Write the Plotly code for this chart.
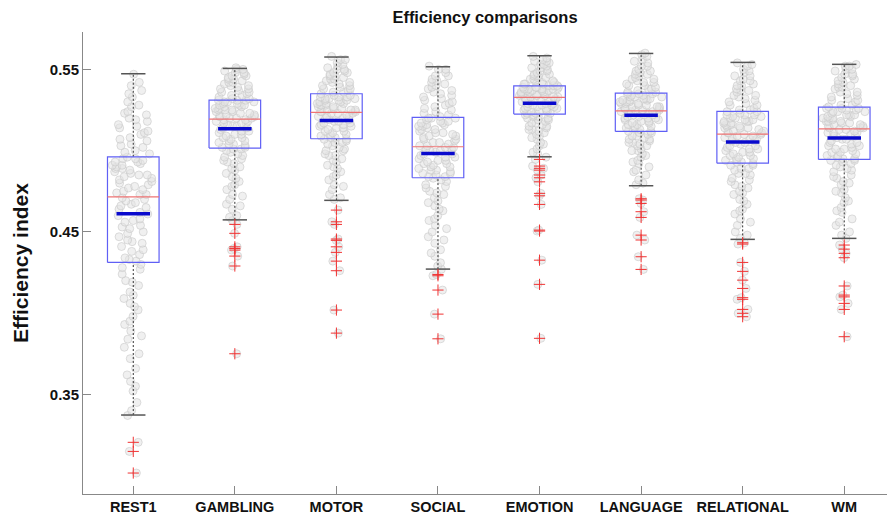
import plotly.graph_objects as go

# ---- data -----------------------------------------------------------------
categories = ["REST1", "GAMBLING", "MOTOR", "SOCIAL", "EMOTION",
              "LANGUAGE", "RELATIONAL", "WM"]

lower_whisker = [0.3373, 0.4574, 0.4694, 0.4271, 0.4962, 0.4784, 0.4454, 0.4460]
q1_values     = [0.4312, 0.5016, 0.5073, 0.4833, 0.5225, 0.5118, 0.4923, 0.4946]
median_values = [0.4716, 0.5194, 0.5235, 0.5024, 0.5328, 0.5245, 0.5102, 0.5134]
q3_values     = [0.4962, 0.5311, 0.5350, 0.5205, 0.5399, 0.5354, 0.5242, 0.5268]
upper_whisker = [0.5473, 0.5506, 0.5576, 0.5516, 0.5584, 0.5598, 0.5543, 0.5531]
mean_values   = [0.4611, 0.5134, 0.5186, 0.4983, 0.5291, 0.5217, 0.5053, 0.5077]

outliers_rest1 = [0.3205, 0.3149, 0.3016]
outliers_gambling = [0.4546, 0.4491, 0.4408, 0.4398, 0.4388, 0.4351, 0.4290, 0.3750]
outliers_motor = [0.4634, 0.4562, 0.4546, 0.4456, 0.4448, 0.4408, 0.4374, 0.4320,
                  0.4261, 0.4019, 0.3877]
outliers_social = [0.4238, 0.4230, 0.4142, 0.3994, 0.3842]
outliers_emotion = [0.4946, 0.4905, 0.4891, 0.4880, 0.4850, 0.4833, 0.4808, 0.4737,
                    0.4722, 0.4669, 0.4511, 0.4505, 0.4326, 0.4177, 0.3845]
outliers_language = [0.4704, 0.4696, 0.4675, 0.4624, 0.4589, 0.4480, 0.4450, 0.4347,
                     0.4269]
outliers_relational = [0.4433, 0.4425, 0.4312, 0.4257, 0.4203, 0.4152, 0.4095, 0.4085,
                       0.4023, 0.3999, 0.3978]
outliers_wm = [0.4419, 0.4394, 0.4368, 0.4341, 0.4167, 0.4111, 0.4100, 0.4060,
               0.4023, 0.3855]

# subject-level efficiency values inside the whiskers
rest1_values = [
    0.337, 0.345, 0.352, 0.358, 0.366, 0.372, 0.379, 0.384, 0.389, 0.393,
    0.398, 0.402, 0.406, 0.409, 0.413, 0.417, 0.420, 0.424, 0.427, 0.430,
    0.432, 0.434, 0.436, 0.439, 0.441, 0.443, 0.445, 0.447, 0.450, 0.452,
    0.454, 0.456, 0.458, 0.460, 0.462, 0.464, 0.466, 0.468, 0.470, 0.471,
    0.473, 0.474, 0.476, 0.477, 0.478, 0.480, 0.481, 0.482, 0.484, 0.485,
    0.486, 0.488, 0.489, 0.490, 0.491, 0.492, 0.493, 0.494, 0.495, 0.496,
    0.498, 0.500, 0.502, 0.504, 0.506, 0.508, 0.510, 0.512, 0.514, 0.516,
    0.518, 0.520, 0.522, 0.524, 0.527, 0.530, 0.533, 0.537, 0.542, 0.547,
    0.340, 0.355, 0.362, 0.375, 0.386, 0.395, 0.404, 0.411, 0.419, 0.428,
    0.433, 0.438, 0.444, 0.449, 0.453, 0.457, 0.461, 0.465, 0.467, 0.469,
    0.473, 0.475, 0.479, 0.483, 0.485, 0.487, 0.489, 0.491, 0.493, 0.495,
    0.499, 0.503, 0.507, 0.511, 0.515, 0.519, 0.523, 0.528, 0.535, 0.540]
gambling_values = [
    0.457, 0.460, 0.464, 0.467, 0.470, 0.473, 0.476, 0.479, 0.481, 0.483,
    0.486, 0.488, 0.490, 0.492, 0.494, 0.495, 0.497, 0.498, 0.500, 0.501,
    0.502, 0.503, 0.504, 0.505, 0.506, 0.507, 0.508, 0.509, 0.510, 0.511,
    0.512, 0.513, 0.514, 0.515, 0.516, 0.517, 0.517, 0.518, 0.519, 0.519,
    0.520, 0.520, 0.521, 0.521, 0.522, 0.523, 0.523, 0.524, 0.525, 0.525,
    0.526, 0.527, 0.527, 0.528, 0.528, 0.529, 0.530, 0.530, 0.531, 0.531,
    0.532, 0.533, 0.534, 0.535, 0.536, 0.537, 0.538, 0.539, 0.540, 0.541,
    0.542, 0.543, 0.544, 0.545, 0.546, 0.547, 0.548, 0.549, 0.550, 0.551,
    0.459, 0.466, 0.472, 0.478, 0.484, 0.489, 0.493, 0.496, 0.499, 0.501,
    0.502, 0.504, 0.506, 0.508, 0.510, 0.512, 0.514, 0.515, 0.517, 0.518,
    0.520, 0.521, 0.522, 0.524, 0.525, 0.526, 0.528, 0.529, 0.530, 0.531,
    0.532, 0.534, 0.536, 0.538, 0.540, 0.542, 0.544, 0.546, 0.548, 0.550]
motor_values = [
    0.470, 0.473, 0.476, 0.479, 0.482, 0.484, 0.487, 0.489, 0.491, 0.493,
    0.495, 0.497, 0.498, 0.500, 0.501, 0.502, 0.504, 0.505, 0.506, 0.507,
    0.508, 0.509, 0.510, 0.511, 0.512, 0.513, 0.514, 0.515, 0.516, 0.516,
    0.517, 0.518, 0.519, 0.519, 0.520, 0.521, 0.521, 0.522, 0.523, 0.523,
    0.524, 0.524, 0.525, 0.525, 0.526, 0.527, 0.527, 0.528, 0.528, 0.529,
    0.529, 0.530, 0.531, 0.531, 0.532, 0.532, 0.533, 0.533, 0.534, 0.535,
    0.536, 0.537, 0.538, 0.539, 0.540, 0.541, 0.542, 0.543, 0.544, 0.545,
    0.546, 0.547, 0.548, 0.549, 0.550, 0.551, 0.552, 0.554, 0.556, 0.558,
    0.471, 0.478, 0.485, 0.490, 0.494, 0.497, 0.500, 0.503, 0.505, 0.507,
    0.508, 0.510, 0.512, 0.514, 0.515, 0.517, 0.518, 0.520, 0.521, 0.523,
    0.524, 0.525, 0.526, 0.528, 0.529, 0.530, 0.531, 0.532, 0.533, 0.534,
    0.536, 0.538, 0.540, 0.542, 0.544, 0.546, 0.548, 0.550, 0.553, 0.556]
social_values = [
    0.427, 0.431, 0.435, 0.439, 0.443, 0.447, 0.450, 0.454, 0.457, 0.460,
    0.463, 0.466, 0.468, 0.471, 0.473, 0.475, 0.477, 0.479, 0.481, 0.483,
    0.484, 0.485, 0.486, 0.487, 0.488, 0.489, 0.490, 0.491, 0.492, 0.493,
    0.494, 0.495, 0.496, 0.497, 0.498, 0.499, 0.500, 0.501, 0.501, 0.502,
    0.503, 0.504, 0.505, 0.506, 0.507, 0.508, 0.509, 0.510, 0.511, 0.512,
    0.513, 0.514, 0.515, 0.516, 0.517, 0.517, 0.518, 0.519, 0.520, 0.520,
    0.522, 0.523, 0.525, 0.526, 0.528, 0.529, 0.531, 0.532, 0.534, 0.535,
    0.537, 0.538, 0.540, 0.541, 0.543, 0.544, 0.546, 0.548, 0.550, 0.552,
    0.429, 0.437, 0.445, 0.452, 0.458, 0.464, 0.469, 0.474, 0.478, 0.482,
    0.484, 0.486, 0.488, 0.490, 0.492, 0.494, 0.496, 0.498, 0.500, 0.502,
    0.503, 0.505, 0.507, 0.509, 0.511, 0.513, 0.515, 0.516, 0.518, 0.520,
    0.521, 0.524, 0.527, 0.530, 0.533, 0.536, 0.539, 0.542, 0.546, 0.550]
emotion_values = [
    0.496, 0.499, 0.501, 0.503, 0.505, 0.507, 0.509, 0.510, 0.512, 0.513,
    0.514, 0.515, 0.516, 0.517, 0.518, 0.519, 0.520, 0.521, 0.521, 0.522,
    0.523, 0.523, 0.524, 0.524, 0.525, 0.526, 0.526, 0.527, 0.527, 0.528,
    0.528, 0.529, 0.529, 0.530, 0.530, 0.531, 0.531, 0.532, 0.532, 0.533,
    0.533, 0.534, 0.534, 0.534, 0.535, 0.535, 0.536, 0.536, 0.536, 0.537,
    0.537, 0.537, 0.538, 0.538, 0.538, 0.539, 0.539, 0.539, 0.540, 0.540,
    0.541, 0.541, 0.542, 0.543, 0.543, 0.544, 0.545, 0.546, 0.546, 0.547,
    0.548, 0.549, 0.550, 0.551, 0.552, 0.553, 0.554, 0.555, 0.556, 0.558,
    0.498, 0.504, 0.508, 0.511, 0.513, 0.515, 0.517, 0.519, 0.520, 0.522,
    0.523, 0.524, 0.525, 0.526, 0.527, 0.528, 0.529, 0.530, 0.531, 0.532,
    0.533, 0.534, 0.535, 0.535, 0.536, 0.537, 0.538, 0.538, 0.539, 0.540,
    0.541, 0.542, 0.544, 0.545, 0.547, 0.549, 0.551, 0.553, 0.555, 0.557]
language_values = [
    0.479, 0.482, 0.485, 0.488, 0.490, 0.492, 0.494, 0.496, 0.498, 0.500,
    0.501, 0.503, 0.504, 0.505, 0.506, 0.507, 0.508, 0.509, 0.510, 0.511,
    0.512, 0.513, 0.514, 0.515, 0.515, 0.516, 0.517, 0.518, 0.518, 0.519,
    0.520, 0.520, 0.521, 0.522, 0.522, 0.523, 0.523, 0.524, 0.524, 0.525,
    0.525, 0.526, 0.526, 0.527, 0.527, 0.528, 0.529, 0.529, 0.530, 0.530,
    0.531, 0.531, 0.532, 0.532, 0.533, 0.533, 0.534, 0.534, 0.535, 0.535,
    0.536, 0.537, 0.538, 0.539, 0.540, 0.541, 0.542, 0.543, 0.544, 0.545,
    0.546, 0.547, 0.548, 0.549, 0.550, 0.552, 0.554, 0.556, 0.558, 0.560,
    0.480, 0.487, 0.493, 0.497, 0.500, 0.503, 0.505, 0.507, 0.509, 0.511,
    0.512, 0.514, 0.516, 0.517, 0.519, 0.520, 0.521, 0.522, 0.523, 0.524,
    0.525, 0.526, 0.527, 0.528, 0.529, 0.530, 0.531, 0.532, 0.533, 0.535,
    0.536, 0.538, 0.540, 0.542, 0.544, 0.547, 0.549, 0.552, 0.555, 0.559]
relational_values = [
    0.446, 0.450, 0.454, 0.458, 0.461, 0.464, 0.467, 0.470, 0.473, 0.475,
    0.477, 0.479, 0.481, 0.483, 0.485, 0.486, 0.488, 0.489, 0.491, 0.492,
    0.493, 0.494, 0.495, 0.496, 0.497, 0.498, 0.499, 0.500, 0.501, 0.502,
    0.503, 0.504, 0.505, 0.506, 0.506, 0.507, 0.508, 0.509, 0.509, 0.510,
    0.511, 0.511, 0.512, 0.513, 0.514, 0.514, 0.515, 0.516, 0.516, 0.517,
    0.518, 0.518, 0.519, 0.520, 0.520, 0.521, 0.522, 0.522, 0.523, 0.524,
    0.525, 0.526, 0.528, 0.529, 0.530, 0.532, 0.533, 0.534, 0.536, 0.537,
    0.538, 0.540, 0.541, 0.543, 0.544, 0.546, 0.548, 0.550, 0.552, 0.554,
    0.448, 0.456, 0.463, 0.469, 0.474, 0.478, 0.482, 0.486, 0.489, 0.491,
    0.493, 0.495, 0.497, 0.499, 0.501, 0.503, 0.505, 0.507, 0.508, 0.510,
    0.511, 0.512, 0.514, 0.515, 0.517, 0.518, 0.519, 0.521, 0.522, 0.524,
    0.525, 0.528, 0.531, 0.534, 0.537, 0.540, 0.543, 0.546, 0.549, 0.553]
wm_values = [
    0.446, 0.450, 0.454, 0.458, 0.462, 0.465, 0.468, 0.471, 0.474, 0.476,
    0.479, 0.481, 0.483, 0.485, 0.487, 0.489, 0.490, 0.492, 0.493, 0.494,
    0.495, 0.496, 0.497, 0.498, 0.499, 0.500, 0.501, 0.502, 0.503, 0.504,
    0.505, 0.506, 0.507, 0.508, 0.509, 0.510, 0.511, 0.511, 0.512, 0.513,
    0.514, 0.514, 0.515, 0.516, 0.516, 0.517, 0.518, 0.518, 0.519, 0.520,
    0.520, 0.521, 0.522, 0.522, 0.523, 0.524, 0.524, 0.525, 0.526, 0.526,
    0.527, 0.528, 0.530, 0.531, 0.532, 0.534, 0.535, 0.536, 0.538, 0.539,
    0.540, 0.542, 0.543, 0.545, 0.546, 0.547, 0.549, 0.550, 0.552, 0.553,
    0.448, 0.456, 0.463, 0.469, 0.475, 0.480, 0.484, 0.488, 0.491, 0.494,
    0.495, 0.497, 0.499, 0.501, 0.503, 0.505, 0.507, 0.509, 0.511, 0.513,
    0.514, 0.515, 0.517, 0.518, 0.520, 0.521, 0.522, 0.524, 0.525, 0.526,
    0.528, 0.531, 0.533, 0.536, 0.539, 0.541, 0.544, 0.547, 0.550, 0.552]

inner_values = [rest1_values, gambling_values, motor_values, social_values,
                emotion_values, language_values, relational_values, wm_values]
outlier_values = [outliers_rest1, outliers_gambling, outliers_motor, outliers_social,
                  outliers_emotion, outliers_language, outliers_relational, outliers_wm]

# ---- styling --------------------------------------------------------------
FONT = "Liberation Sans, Arial, Helvetica, sans-serif"
BOX_HALF = 0.254
MEAN_HALF = 0.165
CAP_HALF = 0.12
CLOUD_WIDTH = 0.42

positions = list(range(1, len(categories) + 1))

fig = go.Figure()

# jittered subject points (all values, outliers included)
for pos, vals, outs in zip(positions, inner_values, outlier_values):
    fig.add_trace(go.Box(
        x0=pos, y=vals + outs, width=CLOUD_WIDTH,
        boxpoints="all", jitter=1.0, pointpos=0,
        fillcolor="rgba(0,0,0,0)", line=dict(width=0, color="rgba(0,0,0,0)"),
        marker=dict(size=8, color="rgba(228,228,228,0.55)",
                    line=dict(width=1, color="rgba(200,200,200,0.6)")),
        showlegend=False, hoverinfo="skip",
    ))


def segments(pairs):
    xs, ys = [], []
    for (xa, xb, ya, yb) in pairs:
        xs += [xa, xb, None]
        ys += [ya, yb, None]
    return xs, ys


# whiskers (dashed), from box edges out to the caps
wx, wy = segments(
    [(p, p, q3, up) for p, q3, up in zip(positions, q3_values, upper_whisker)]
    + [(p, p, lo, q1) for p, lo, q1 in zip(positions, lower_whisker, q1_values)]
)
fig.add_trace(go.Scatter(x=wx, y=wy, mode="lines", hoverinfo="skip", showlegend=False,
                         line=dict(color="#333333", width=1, dash="2px,2px")))

# whisker caps
cx, cy = segments(
    [(p - CAP_HALF, p + CAP_HALF, v, v) for p, v in zip(positions, upper_whisker)]
    + [(p - CAP_HALF, p + CAP_HALF, v, v) for p, v in zip(positions, lower_whisker)]
)
fig.add_trace(go.Scatter(x=cx, y=cy, mode="lines", hoverinfo="skip", showlegend=False,
                         line=dict(color="#555555", width=1.5)))

# boxes
bx, by = [], []
for p, lo, hi in zip(positions, q1_values, q3_values):
    bx += [p - BOX_HALF, p + BOX_HALF, p + BOX_HALF, p - BOX_HALF, p - BOX_HALF, None]
    by += [lo, lo, hi, hi, lo, None]
fig.add_trace(go.Scatter(x=bx, y=by, mode="lines", hoverinfo="skip", showlegend=False,
                         line=dict(color="rgb(95,95,245)", width=1.2)))

# medians
mx, my = segments([(p - BOX_HALF, p + BOX_HALF, v, v)
                   for p, v in zip(positions, median_values)])
fig.add_trace(go.Scatter(x=mx, y=my, mode="lines", hoverinfo="skip", showlegend=False,
                         line=dict(color="rgb(238,115,115)", width=1.2)))

# means
ax_, ay_ = segments([(p - MEAN_HALF, p + MEAN_HALF, v, v)
                     for p, v in zip(positions, mean_values)])
fig.add_trace(go.Scatter(x=ax_, y=ay_, mode="lines", hoverinfo="skip", showlegend=False,
                         line=dict(color="rgb(10,10,205)", width=3.5)))

# outliers
ox, oy = [], []
for p, outs in zip(positions, outlier_values):
    ox += [p] * len(outs)
    oy += outs
fig.add_trace(go.Scatter(x=ox, y=oy, mode="markers", hoverinfo="skip", showlegend=False,
                         marker=dict(symbol="cross-thin", size=8,
                                     line=dict(color="rgb(240,50,50)", width=1))))

fig.update_layout(
    width=887, height=519,
    margin=dict(l=83, r=0, t=32, b=25, pad=0),
    paper_bgcolor="white", plot_bgcolor="white",
    boxmode="overlay", boxgap=0.3,
    font=dict(family=FONT, color="black"),
    title=dict(text="Efficiency comparisons", x=0.5, xref="paper",
               y=1 - 17 / 519, yref="container", xanchor="center", yanchor="middle",
               font=dict(size=16.5, family=FONT, weight="bold", color="#111")),
    xaxis=dict(range=[0.505, 8.421], tickmode="array", tickvals=positions,
               ticktext=categories, ticks="inside", ticklen=8, tickwidth=1,
               tickcolor="#888", showline=True, linecolor="#888", linewidth=1,
               showgrid=False, zeroline=False, automargin=False,
               tickfont=dict(size=14.5, family=FONT, weight="bold", color="#111")),
    yaxis=dict(range=[0.2887, 0.5730], tickmode="array", tickvals=[0.35, 0.45, 0.55],
               ticktext=["0.35", "0.45", "0.55"], ticks="inside", ticklen=8,
               tickwidth=1, tickcolor="#888", showline=True, linecolor="#888",
               linewidth=1, showgrid=False, zeroline=False, automargin=False,
               tickfont=dict(size=15, family=FONT, weight="bold", color="#111")),
    annotations=[dict(text="Efficiency index", xref="paper", yref="paper",
                      x=(20 - 83) / 804, y=0.5, textangle=-90, showarrow=False,
                      xanchor="center", yanchor="middle",
                      font=dict(size=21, family=FONT, weight="bold", color="#111"))],
)

fig.write_html("out.html")
